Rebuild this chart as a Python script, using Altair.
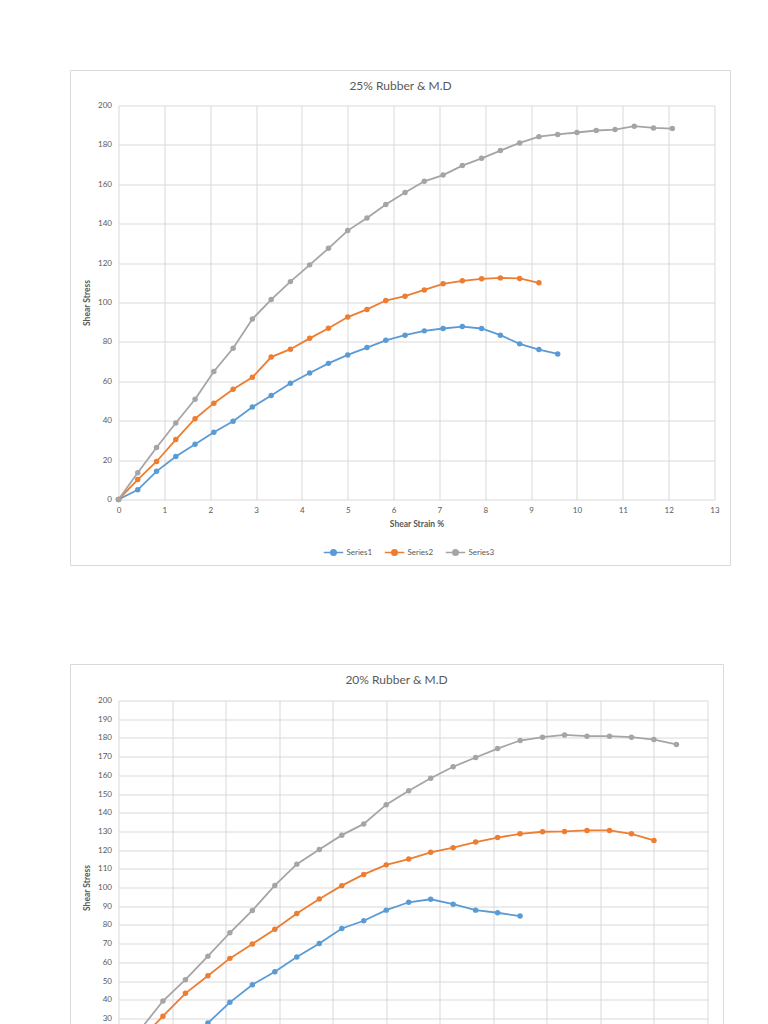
import altair as alt
import pandas as pd

# ---------------- data ----------------
SERIES_NAMES = ["Series1", "Series2", "Series3"]
COLORS = ["#5B9BD5", "#ED7D31", "#A5A5A5"]

STRAIN = [0, 0.42, 0.83, 1.25, 1.67, 2.08, 2.5, 2.92, 3.33, 3.75, 4.17, 4.58,
          5.0, 5.42, 5.83, 6.25, 6.67, 7.08, 7.5, 7.92, 8.33, 8.75, 9.17, 9.58,
          10.0, 10.42, 10.83, 11.25, 11.67, 12.08]

# 25% Rubber & M.D
TOP_S1 = [0, 4.9, 14.3, 21.8, 28.1, 34.1, 39.7, 46.9, 52.8, 59.0, 64.2, 69.1,
          73.4, 77.1, 80.8, 83.4, 85.6, 86.8, 87.8, 86.8, 83.4, 79.0, 76.1, 73.9]
TOP_S2 = [0, 10.1, 19.3, 30.4, 41.0, 48.9, 56.0, 62.0, 72.3, 76.3, 81.8, 86.9,
          92.6, 96.5, 101.0, 103.2, 106.4, 109.5, 111.0, 112.0, 112.5, 112.2, 110.0]
TOP_S3 = [0, 13.6, 26.4, 38.8, 50.9, 65.0, 76.8, 91.6, 101.5, 110.6, 119.1, 127.5,
          136.5, 142.9, 149.7, 155.8, 161.5, 164.7, 169.5, 173.2, 177.1, 181.0,
          184.2, 185.3, 186.3, 187.3, 187.8, 189.5, 188.6, 188.3]

# 20% Rubber & M.D
BOT_S1 = [0, 6.0, 12.0, 19.5, 27.5, 38.6, 48.0, 54.9, 62.8, 70.1, 78.1, 82.2,
          87.9, 92.1, 93.7, 91.1, 87.9, 86.5, 84.7]
BOT_S2 = [0, 19.0, 31.2, 43.4, 52.8, 62.1, 69.8, 77.7, 86.1, 93.8, 101.0, 107.0,
          112.1, 115.2, 118.8, 121.3, 124.3, 126.7, 128.7, 129.8, 130.0, 130.5,
          130.5, 128.7, 125.2]
BOT_S3 = [0, 24.5, 39.3, 50.7, 63.3, 75.8, 87.7, 101.1, 112.5, 120.3, 128.0, 134.0,
          144.3, 151.7, 158.4, 164.6, 169.5, 174.3, 178.6, 180.4, 181.6, 180.9,
          180.9, 180.4, 179.1, 176.5]

TOP_X_TICKS = [0, 1, 2, 3, 4, 5, 6, 7, 8, 9, 10, 11, 12, 13]
TOP_Y_TICKS = [0, 20, 40, 60, 80, 100, 120, 140, 160, 180, 200]
BOT_X_TICKS = [0, 1, 2, 3, 4, 5, 6, 7, 8, 9, 10, 11]
BOT_Y_TICKS = [0, 10, 20, 30, 40, 50, 60, 70, 80, 90, 100, 110, 120, 130, 140,
               150, 160, 170, 180, 190, 200]

TOP_TITLE = "25% Rubber & M.D"
BOT_TITLE = "20% Rubber & M.D"
X_TITLE = "Shear Strain %"
Y_TITLE = "Shear Stress"

# ---------------- style ----------------
FONT = "Lato"
GRID = "#D9D9D9"
TXT = "#595959"
LEGEND_SYMBOL = ("M-1,0L1,0M-0.28,0A0.28,0.28,0,1,1,0.28,0"
                 "A0.28,0.28,0,1,1,-0.28,0Z")


def long_df(series_lists):
    rows = []
    for name, vals in zip(SERIES_NAMES, series_lists):
        for x, v in zip(STRAIN, vals):
            rows.append({"strain": x, "stress": v, "series": name})
    return pd.DataFrame(rows)


def panel(series_lists, title, x_ticks, y_ticks, w, h, frame_right, frame_top,
          frame_bottom, title_x, title_y, legend_y):
    df = long_df(series_lists)
    color = alt.Color(
        "series:N",
        scale=alt.Scale(domain=SERIES_NAMES, range=COLORS),
        legend=alt.Legend(
            title=None, orient="none", direction="horizontal",
            legendX=204, legendY=legend_y, padding=0,
            symbolType=LEGEND_SYMBOL, symbolSize=380, symbolStrokeWidth=1.6,
            labelFont=FONT, labelFontSize=8, labelColor=TXT,
            labelOffset=2, columnPadding=9,
        ),
    )
    x = alt.X(
        "strain:Q",
        scale=alt.Scale(domain=[x_ticks[0], x_ticks[-1]], nice=False),
        axis=alt.Axis(values=x_ticks, title=X_TITLE, labelPadding=7,
                      titlePadding=5, labelFlush=False),
    )
    y = alt.Y(
        "stress:Q",
        scale=alt.Scale(domain=[y_ticks[0], y_ticks[-1]], nice=False),
        axis=alt.Axis(values=y_ticks, title=Y_TITLE, labelPadding=7,
                      titlePadding=6),
    )
    lines = alt.Chart(df).mark_line(
        strokeWidth=1.8,
        point=alt.OverlayMarkDef(filled=True, size=30, opacity=1),
    ).encode(x=x, y=y, color=color)

    one = alt.Data(values=[{"k": 1}])
    frame = alt.Chart(one).mark_rect(
        fill="white", fillOpacity=0, stroke=GRID, strokeWidth=1
    ).encode(
        x=alt.value(-48), x2=alt.value(frame_right),
        y=alt.value(frame_top), y2=alt.value(frame_bottom),
    )
    ttl = alt.Chart(one).mark_text(
        text=title, font=FONT, fontSize=12, color=TXT, baseline="middle",
        align="center",
    ).encode(x=alt.value(title_x), y=alt.value(title_y))
    return alt.layer(frame, lines, ttl).properties(width=w, height=h)


top = panel([TOP_S1, TOP_S2, TOP_S3], TOP_TITLE, TOP_X_TICKS, TOP_Y_TICKS,
            596, 394, 612, -35, 460, 282, -20, 436)
bottom = panel([BOT_S1, BOT_S2, BOT_S3], BOT_TITLE, BOT_X_TICKS, BOT_Y_TICKS,
               589, 374, 605, -36, 440, 278, -21, 416)

chart = alt.vconcat(top, bottom, spacing=97).resolve_legend(
    color="independent"
).properties(
    padding={"left": 61.5, "top": 61.5, "right": 5, "bottom": 5},
    background="white",
).configure_view(stroke=None).configure_axis(
    grid=True, gridColor=GRID, gridWidth=1, domain=False, ticks=False,
    labelFont=FONT, labelFontSize=8, labelColor=TXT,
    titleFont=FONT, titleFontSize=8.5, titleFontWeight="bold", titleColor=TXT,
)

chart.save("out.html", embed_options={"renderer": "svg", "actions": False})
